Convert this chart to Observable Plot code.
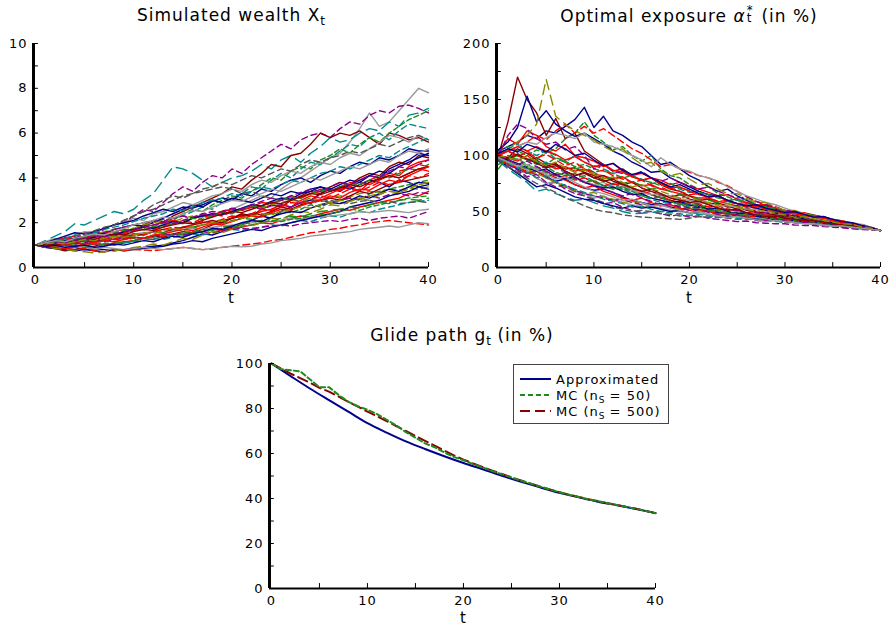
<!DOCTYPE html>
<html>
<head>
<meta charset="utf-8">
<script src="https://cdn.jsdelivr.net/npm/d3@7"></script>
<script src="https://cdn.jsdelivr.net/npm/@observablehq/plot@0.6"></script>
<style>
  body { margin: 0; background: #fff; }
  #root { position: relative; width: 894px; height: 630px; background: #fff; overflow: hidden;
          font-family: "DejaVu Sans", sans-serif; color: #000; }
  .panel { position: absolute; }
  .title { position: absolute; text-align: center; font-size: 17px; letter-spacing: 1px; white-space: nowrap; line-height: 20px; }
  .xlab { position: absolute; text-align: center; font-size: 15px; width: 20px; line-height: 16px; }
  .sub { font-size: 0.7em; vertical-align: -0.35em; letter-spacing: 0; }
  .ss { position: relative; display: inline-block; width: 0.55em; height: 1em; vertical-align: baseline; }
  .ss .up { position: absolute; left: 1px; top: 0.12em; font-size: 0.7em; line-height: 0.75; }
  .ss .dn { position: absolute; left: 1px; top: 0.72em; font-size: 0.7em; line-height: 0.75; }
  .legend { position: absolute; left: 513px; top: 364px; width: 154px; height: 58px; border: 1.5px solid #444; background: #fff; }
</style>
</head>
<body>
<div id="root">
  <div class="title" style="left:131px; width:200px; top:5px;">Simulated wealth X<span class="sub">t</span></div>
  <div class="title" style="left:549px; width:280px; top:5px;">Optimal exposure <i>α</i><span class="ss"><span class="up">*</span><span class="dn">t</span></span> (in %)</div>
  <div class="title" style="left:352px; width:220px; top:325px;">Glide path g<span class="sub">t</span> (in %)</div>
  <div class="xlab" style="left:221px; top:290px;">t</div>
  <div class="xlab" style="left:679px; top:290px;">t</div>
  <div class="xlab" style="left:453px; top:610px;">t</div>
  <div id="p1" class="panel" style="left:0px; top:0px;"></div>
  <div id="p2" class="panel" style="left:447px; top:0px;"></div>
  <div id="p3" class="panel" style="left:220px; top:320px;"></div>
  <div class="legend">
    <svg width="154" height="58" style="position:absolute;left:0;top:0;font-family:'DejaVu Sans',sans-serif;font-size:13px;letter-spacing:1px;">
      <line x1="6" x2="37" y1="14" y2="14" stroke="#00008B" stroke-width="2"/>
      <text x="42" y="19">Approximated</text>
      <line x1="6" x2="37" y1="30" y2="30" stroke="#1E8B1E" stroke-width="2" stroke-dasharray="5,3"/>
      <text x="42" y="35">MC (n<tspan font-size="9" dy="3" letter-spacing="0">S</tspan><tspan dy="-3"> = 50)</tspan></text>
      <line x1="6" x2="37" y1="46" y2="46" stroke="#8B0000" stroke-width="2" stroke-dasharray="10,5"/>
      <text x="42" y="51">MC (n<tspan font-size="9" dy="3" letter-spacing="0">S</tspan><tspan dy="-3"> = 500)</tspan></text>
    </svg>
  </div>
</div>
<script>
// ---------- data ----------
const tValues = d3.range(0, 41);           // time grid t = 0..40
const tTickLabels = [0, 10, 20, 30, 40];
const tMinorTicks = [5, 10, 15, 20, 25, 30, 35, 40];

const wealthTickLabels = [0, 2, 4, 6, 8, 10];
const wealthMinorTicks = [1, 2, 3, 4, 5, 6, 7, 8, 9, 10];
const exposureTickLabels = [0, 50, 100, 150, 200];
const exposureMinorTicks = [25, 50, 75, 100, 125, 150, 175, 200];
const glideTickLabels = [0, 20, 40, 60, 80, 100];
const glideMinorTicks = [10, 20, 30, 40, 50, 60, 70, 80, 90, 100];

// simulated wealth paths X_t (one row per path, t = 0..40)
const wealthPaths = [
  [1,1.05,1.12,1.2,1.15,1.3,1.4,1.35,1.5,1.6, 1.7,1.65,1.8,1.9,2.0,1.95,2.2,2.3,2.25,2.5, 2.6,2.8,3.0,3.2,3.1,3.5,3.8,4.0,4.3,4.6, 4.9,5.1,5.6,6.2,6.9,6.3,6.5,7.0,7.5,8.0, 7.8],
  [1,1.1,1.25,1.2,1.4,1.55,1.5,1.7,1.9,2.0, 2.3,2.6,2.5,2.9,3.3,3.6,3.4,3.8,4.1,4.0, 4.4,4.2,4.6,4.9,5.2,5.5,5.3,5.7,5.9,6.0, 5.8,6.2,6.5,6.4,6.8,7.0,6.9,7.2,7.25,7.1, 6.9],
  [1,1.2,1.4,1.6,1.95,1.9,2.1,2.3,2.5,2.4, 2.6,3.0,3.3,3.9,4.5,4.4,4.2,3.9,3.6,3.8, 4.0,4.1,4.3,4.6,4.4,4.8,5.0,4.7,5.1,5.4, 5.8,5.6,5.7,6.0,6.2,6.1,6.5,6.3,6.8,6.9, 7.1],
  [1,0.95,1.05,1.15,1.1,1.25,1.3,1.45,1.4,1.55, 1.7,1.9,2.1,2.0,2.3,2.5,2.7,2.9,3.1,3.3, 3.6,3.5,3.9,4.2,4.6,4.5,5.0,5.1,5.5,6.0, 5.8,6.0,5.9,6.1,5.8,5.5,6.0,5.9,5.7,5.8, 5.6],
  [1,1.05,0.98,1.1,1.2,1.15,1.3,1.4,1.55,1.5, 1.7,1.85,1.8,2.0,2.2,2.3,2.5,2.7,2.6,2.9, 3.1,3.3,3.6,3.5,3.9,4.2,4.0,4.4,4.7,4.6, 4.9,5.2,5.5,5.4,5.8,6.0,5.7,6.1,6.4,6.3, 6.2],
  [1,1.1,1.05,1.2,1.3,1.25,1.4,1.5,1.45,1.6, 1.75,1.9,2.0,2.15,2.1,2.4,2.6,2.5,2.8,3.0, 3.2,3.1,3.4,3.7,4.0,3.9,4.3,4.5,4.4,4.8, 5.0,5.3,5.1,5.5,5.8,5.6,6.0,6.3,6.6,6.8, 7.0],
  [1,1.1,1.2,1.3,1.25,1.4,1.55,1.5,1.7,1.8, 1.9,1.85,2.0,2.2,2.4,2.6,2.8,2.7,2.95,3.1, 3.0,3.3,3.2,3.5,3.4,3.7,3.9,4.0,3.8,4.1, 4.3,4.2,4.5,4.7,4.6,4.9,4.8,5.0,5.3,5.2, 5.2],
  [1,0.95,0.9,0.85,0.9,0.8,0.85,0.8,0.75,0.8, 0.85,0.9,0.95,1.0,1.1,1.2,1.35,1.5,1.45,1.6, 1.8,1.9,2.1,2.3,2.2,2.5,2.7,2.9,3.0,3.3, 3.5,3.4,3.7,3.9,4.1,4.0,4.4,4.6,4.8,5.1, 5.0],
  [1,1.05,1.1,1.0,1.15,1.2,1.3,1.25,1.35,1.3, 1.45,1.5,1.6,1.55,1.7,1.8,1.75,1.9,2.0,2.1, 2.2,2.35,2.3,2.5,2.6,2.8,2.7,3.0,3.2,3.1, 3.3,3.5,3.6,3.4,3.8,4.0,4.2,4.1,4.5,4.7, 4.8],
  [1,0.9,0.85,0.75,0.8,0.9,0.95,1.05,1.0,1.1, 1.2,1.3,1.4,1.35,1.5,1.6,1.55,1.7,1.9,2.0, 2.2,2.4,2.3,2.6,2.8,2.7,3.0,3.2,3.4,3.3, 3.6,3.8,3.7,4.0,4.2,4.1,4.5,4.7,4.6,5.0, 4.9],
  [1,1.15,1.3,1.25,1.45,1.6,1.55,1.75,1.9,2.0, 2.2,2.1,2.4,2.5,2.7,2.9,2.8,3.0,3.2,3.3, 3.5,3.4,3.7,3.9,3.8,4.1,4.3,4.2,4.5,4.7, 4.6,4.9,5.1,5.0,5.3,5.6,5.9,5.8,5.6,5.9, 5.7],
  [1,1.1,1.2,1.35,1.3,1.5,1.6,1.75,1.9,2.1, 2.3,2.5,2.8,3.0,3.2,3.1,3.3,3.5,3.6,3.8, 3.7,3.9,4.1,4.0,4.2,4.4,4.3,4.6,4.8,4.7, 4.9,5.0,5.2,5.1,5.3,5.5,5.4,5.6,5.8,5.9, 5.7],
  [1,1.1,1.2,1.3,1.4,1.35,1.5,1.45,1.6,1.55, 1.65,1.8,1.7,1.85,1.95,2.1,2.0,2.2,2.4,2.3, 2.5,2.6,2.8,2.7,2.9,3.0,3.2,3.1,3.3,3.5, 3.4,3.6,3.8,3.7,3.9,4.1,4.0,4.3,4.4,4.6, 4.5],
  [1,1.1,1.25,1.4,1.55,1.5,1.6,1.75,1.9,2.0, 2.1,2.3,2.45,2.6,2.5,2.7,2.65,2.8,3.0,2.9, 3.1,3.0,2.9,3.1,3.3,3.2,3.4,3.3,3.5,3.6, 3.4,3.6,3.5,3.7,3.9,3.8,3.6,3.9,3.8,3.6, 3.7],
  [1,0.95,1.0,1.1,1.05,1.15,1.25,1.2,1.3,1.4, 1.35,1.5,1.6,1.55,1.7,1.65,1.8,1.9,2.0,1.95, 2.1,2.2,2.15,2.3,2.4,2.5,2.45,2.6,2.8,2.7, 2.9,3.0,3.1,3.0,3.3,3.4,3.5,3.6,3.7,3.8, 3.9],
  [1,1.05,1.15,1.2,1.3,1.4,1.5,1.6,1.7,1.8, 1.75,1.9,2.0,2.1,2.05,2.2,2.3,2.25,2.4,2.5, 2.45,2.6,2.7,2.65,2.8,2.9,3.0,2.95,3.1,3.0, 3.1,3.2,3.15,3.3,3.4,3.35,3.5,3.45,3.55,3.5, 3.6],
  [1,0.9,0.95,0.85,0.9,1.0,1.05,1.0,1.1,1.15, 1.2,1.3,1.25,1.4,1.5,1.45,1.55,1.6,1.7,1.65, 1.75,1.8,1.9,2.0,1.95,2.1,2.2,2.3,2.25,2.4, 2.5,2.6,2.55,2.7,2.8,2.9,3.0,3.1,3.3,3.2, 3.4],
  [1,1.05,0.95,1.0,1.1,1.2,1.15,1.3,1.4,1.35, 1.5,1.45,1.6,1.7,1.65,1.8,1.9,2.0,2.1,2.0, 2.2,2.3,2.4,2.35,2.5,2.7,2.6,2.8,2.9,3.0, 3.1,3.0,3.2,3.4,3.3,3.5,3.7,3.8,3.9,4.0, 4.1],
  [1,1.1,1.2,1.35,1.3,1.5,1.6,1.55,1.7,1.8, 1.9,2.0,2.1,2.05,2.2,2.3,2.2,2.4,2.5,2.45, 2.6,2.55,2.7,2.6,2.75,2.8,2.7,2.9,2.85,3.0, 2.9,3.0,3.1,3.05,3.2,3.1,3.25,3.3,3.2,3.35, 3.3],
  [1,0.95,0.9,0.95,1.0,0.95,1.05,1.1,1.0,1.1, 1.15,1.2,1.3,1.25,1.35,1.4,1.5,1.45,1.55,1.6, 1.7,1.65,1.75,1.8,1.9,1.85,2.0,2.1,2.05,2.2, 2.3,2.25,2.4,2.5,2.45,2.6,2.7,2.8,2.9,2.95, 3.0],
  [1,1.05,1.1,1.2,1.15,1.25,1.3,1.4,1.35,1.45, 1.5,1.55,1.6,1.5,1.65,1.7,1.75,1.7,1.8,1.85, 1.9,1.95,2.0,2.1,2.05,2.1,2.2,2.15,2.3,2.25, 2.3,2.35,2.4,2.5,2.45,2.5,2.55,2.5,2.45,2.55, 2.6],
  [1,0.9,0.85,0.8,0.75,0.8,0.75,0.7,0.8,0.75, 0.8,0.85,0.9,0.95,1.05,1.1,1.2,1.15,1.3,1.4, 1.5,1.6,1.7,1.65,1.8,1.9,2.0,2.1,2.2,2.3, 2.4,2.5,2.7,2.8,2.9,3.0,3.2,3.3,3.4,3.6, 3.5],
  [1,1.05,1.0,1.1,1.15,1.2,1.1,1.2,1.3,1.25, 1.3,1.35,1.4,1.5,1.45,1.55,1.6,1.7,1.65,1.75, 1.8,1.85,1.9,2.0,2.1,2.05,2.15,2.2,2.3,2.35, 2.4,2.5,2.6,2.55,2.7,2.8,2.9,3.0,3.1,3.15, 3.2],
  [1,0.95,0.9,0.85,0.8,0.85,0.75,0.7,0.8,0.75, 0.8,0.78,0.75,0.8,0.85,0.9,0.85,0.8,0.82,0.9, 0.95,1.0,1.05,1.1,1.2,1.25,1.35,1.45,1.55,1.6, 1.7,1.75,1.85,1.9,2.0,2.05,2.1,2.05,2.0,1.95, 1.9],
  [1,1.0,0.95,0.9,0.95,0.9,0.85,0.9,0.85,0.8, 0.85,0.9,0.85,0.8,0.85,0.9,0.85,0.8,0.85,0.9, 0.95,0.92,0.95,1.05,1.1,1.2,1.25,1.3,1.4,1.45, 1.5,1.55,1.6,1.7,1.75,1.8,1.85,1.8,1.9,2.0, 1.95],
  [1,1.05,1.1,1.0,1.05,1.1,1.2,1.15,1.25,1.3, 1.35,1.3,1.4,1.45,1.5,1.45,1.55,1.6,1.55,1.65, 1.7,1.75,1.7,1.8,1.85,1.9,1.85,1.95,2.0,2.05, 2.1,2.05,2.15,2.2,2.1,2.2,2.25,2.3,2.2,2.35, 2.5],
  [1,1.1,1.2,1.3,1.4,1.5,1.65,1.8,1.9,2.1, 2.3,2.5,2.6,2.8,3.0,3.2,3.3,3.4,3.5,3.6, 3.5,3.3,3.4,3.2,3.1,3.0,3.1,2.9,3.0,2.95, 3.0,2.9,2.85,2.95,3.0,2.9,2.95,2.85,2.9,2.95, 2.9],
  [1,0.95,0.85,0.8,0.75,0.7,0.65,0.7,0.75,0.8, 0.9,0.95,1.05,1.0,1.15,1.3,1.25,1.45,1.6,1.55, 1.7,1.9,1.85,2.0,2.2,2.15,2.35,2.5,2.45,2.6, 2.8,2.75,2.95,3.1,3.0,3.25,3.4,3.35,3.6,3.7, 3.8],
  [1,1.1,1.15,1.3,1.25,1.4,1.35,1.5,1.6,1.7, 1.65,1.8,1.9,2.0,2.1,2.0,2.2,2.35,2.3,2.5, 2.6,2.55,2.7,2.9,2.85,3.0,3.2,3.1,3.3,3.4, 3.5,3.45,3.6,3.8,3.7,3.9,4.1,4.0,4.2,4.4, 4.3],
  [1,0.9,0.95,1.05,1.0,0.9,0.95,1.05,1.15,1.1, 1.2,1.3,1.35,1.45,1.4,1.5,1.6,1.55,1.7,1.8, 1.85,1.95,2.0,2.1,2.05,2.2,2.3,2.25,2.4,2.5, 2.55,2.6,2.7,2.65,2.8,2.9,2.85,3.0,3.05,3.0, 3.1],
  [1,1.05,1.1,1.2,1.3,1.25,1.35,1.5,1.45,1.6, 1.7,1.8,1.75,1.9,2.05,2.0,2.2,2.3,2.4,2.35, 2.5,2.65,2.8,2.75,2.95,3.1,3.05,3.3,3.4,3.6, 3.5,3.7,3.9,3.8,4.1,4.3,4.2,4.5,4.7,4.9, 5.1],
  [1,0.95,1.05,1.0,1.1,1.05,1.15,1.3,1.25,1.4, 1.5,1.45,1.6,1.7,1.8,1.75,1.9,2.05,2.0,2.15, 2.3,2.25,2.4,2.6,2.55,2.7,2.9,2.85,3.0,3.2, 3.1,3.3,3.5,3.4,3.6,3.8,3.7,3.9,4.1,4.0, 4.2],
  [1,1.1,1.15,1.25,1.2,1.35,1.45,1.4,1.55,1.65, 1.6,1.75,1.85,1.8,1.95,2.1,2.2,2.15,2.3,2.45, 2.4,2.6,2.75,2.7,2.9,3.0,3.15,3.1,3.3,3.45, 3.4,3.6,3.75,3.7,3.9,4.1,4.0,4.2,4.4,4.35, 4.6],
  [1,1.05,1.0,1.1,1.2,1.3,1.25,1.4,1.5,1.45, 1.6,1.7,1.65,1.8,1.9,2.0,1.95,2.1,2.25,2.4, 2.5,2.45,2.6,2.75,2.9,2.85,3.0,3.15,3.3,3.25, 3.4,3.55,3.7,3.6,3.8,3.95,4.1,4.0,4.2,4.4, 4.5],
  [1,1.1,1.2,1.3,1.45,1.4,1.55,1.7,1.8,1.9, 2.05,2.2,2.3,2.4,2.6,2.55,2.7,2.9,3.0,3.1, 3.3,3.2,3.4,3.6,3.5,3.7,3.9,3.8,4.0,4.2, 4.3,4.5,4.4,4.6,4.8,5.0,4.9,5.2,5.4,5.6, 5.8],
  [1,0.95,0.9,1.0,0.95,1.05,1.1,1.2,1.15,1.25, 1.35,1.3,1.45,1.5,1.6,1.7,1.65,1.8,1.95,1.9, 2.05,2.2,2.3,2.25,2.45,2.6,2.55,2.75,2.9,3.0, 3.2,3.1,3.35,3.5,3.45,3.7,3.9,3.8,4.1,4.3, 4.5],
  [1,1.05,1.15,1.1,1.2,1.3,1.4,1.35,1.5,1.6, 1.7,1.8,1.9,2.0,1.95,2.1,2.25,2.4,2.35,2.5, 2.65,2.6,2.8,2.95,3.1,3.0,3.2,3.35,3.5,3.4, 3.6,3.8,3.7,3.9,4.1,4.0,4.3,4.5,4.4,4.6, 4.8],
  [1,0.95,1.0,0.9,0.95,1.0,0.9,0.95,1.05,1.0, 1.1,1.2,1.15,1.3,1.4,1.35,1.5,1.6,1.75,1.7, 1.85,2.0,2.1,2.05,2.25,2.4,2.5,2.45,2.65,2.8, 2.9,2.85,3.0,3.2,3.1,3.3,3.5,3.4,3.6,3.8, 3.75],
  [1,1.05,1.1,1.05,1.15,1.25,1.2,1.3,1.4,1.35, 1.45,1.55,1.5,1.65,1.75,1.7,1.85,1.9,2.0,2.1, 2.05,2.2,2.3,2.4,2.35,2.5,2.6,2.7,2.65,2.8, 2.9,3.0,2.95,3.1,3.2,3.3,3.4,3.35,3.5,3.7, 3.8],
  [1,1.1,1.2,1.15,1.3,1.4,1.5,1.45,1.6,1.75, 1.9,2.0,2.1,2.25,2.2,2.4,2.55,2.5,2.7,2.85, 3.0,2.95,3.15,3.3,3.5,3.4,3.6,3.8,4.0,3.9, 4.1,4.3,4.5,4.4,4.6,4.8,4.7,5.0,5.2,5.1, 5.3]
];

// optimal exposure paths alpha*_t in % (one row per path, t = 0..40)
const exposurePaths = [
  [98,96,92,88,90,85,82,84,80,77, 74,76,72,70,68,69,65,63,64,60, 58,56,54,52,53,50,48,46,45,43, 42,43,41,40,38,39,37,36,35,34, 33],
  [96,90,85,86,80,75,76,70,66,64, 60,57,58,54,51,49,50,48,46,47, 45,46,44,43,42,41,41.5,40,39.5,39, 39,38,37.5,37.5,36.5,36,35.5,34.5,34,33.5, 33],
  [95,88,82,76,68,70,66,63,60,61, 58,55,53,50,48,48.5,49,50,51,50, 49,48,47,46,46.5,45,44,44.5,43,42, 40,40.5,40,39,38,37.5,36.5,36,34.5,34, 33],
  [102,104,100,96,98,93,92,88,89,85, 82,78,74,75,71,68,65,62,60,58, 55,56,52,50,48,48.5,46,45.5,44,42, 42,41,41,40,40,39.5,37.5,37,36,35, 33],
  [100,98,102,96,92,94,89,85,80,82, 77,73,74,70,66,64,61,58,59,56, 54,52,50,50.5,48,46,47,45,43.5,43.5, 42,41,40,40,38.5,38,38,36.5,35.5,34.5, 33],
  [99,95,97,92,88,90,85,82,84,80, 76,73,71,69,70,65,62,63,59,57, 55,56,53,51,49,49.5,47,46,46,44, 43,42,42,40.5,39.5,39.5,38,37,35.5,34.5, 33],
  [97,92,88,84,86,81,77,79,74,71, 69,70,67,63,60,58,56,57,54,52, 53,50,51,48,49,46,45,44,45,43, 42,42,41,40,40,38.5,38,37,35.5,34.5, 33],
  [104,108,112,118,115,122,120,126,132,143, 125,135,122,118,112,108,100,92,94,88, 82,78,72,68,70,64,60,56,55,52, 50,50,47,45,43,43,40,38.5,37,35, 33],
  [100,98,95,100,94,92,88,90,86,88, 83,82,79,81,76,73,74,70,68,66, 64,62,62,59,57,55,56,52,50,50, 48,46,45,46,43,41,40,39.5,37,35.5, 33],
  [100,130,170,150,138,118,133,115,120,104, 98,92,86,88,82,78,80,74,70,68, 64,60,61,57,54,55,51,49,47,47, 45,43,43,41,39.5,39.5,37.5,36,35.5,34, 33],
  [96,90,84,86,80,75,77,72,68,66, 62,64,60,58,56,54,55,53,51,50, 48.5,49,47,46,46.5,45,44,44.5,43,42, 42,41,40,40,38.5,37.5,36.5,36,35,34, 33],
  [97,93,89,84,86,80,76,72,68,64, 61,58,54,52,50,51,50,48,47.5,46, 46.5,45.5,44.5,45,44,43,43.5,42,41,41.5, 40.5,40,39,39,38,37,37,36,35,34, 33],
  [95,92,89,86,83,85,80,82,78,80, 77,73,75,72,70,66,68,64,60,62, 58,57,54,55,52,51,49,50,47,45, 45,44,42,42,40.5,39,39,37,36,34.5, 33],
  [96,90,84,78,72,74,71,67,63,61, 60,57,55,53,55,53,54,52,50,51, 49,50,51,49,48,48.5,47,47.5,46,45, 46,44,44,42.5,41,40.5,40.5,38.5,37,35.5, 33],
  [104,108,104,100,105,102,106,115,120,130, 118,112,105,108,100,95,100,88,82,80, 74,70,72,66,63,60,61,56,53,53, 50,48,47,46,43,41.5,40,38.5,36.5,35, 33],
  [98,95,90,88,84,80,76,72,69,66, 67,63,61,58,59,57,55,56,54,52, 53,51,50,50.5,49,48,47,47.5,46,46.5, 45,44,44,42.5,41,41,39.5,39,37,35.5, 33],
  [102,115,110,122,118,108,104,110,100,98, 95,90,93,86,82,84,80,78,74,76, 72,70,67,64,65,61,58,56,56,53, 51,49,49,47,45,43,41.5,39.5,37,36, 33],
  [100,98,106,102,96,90,93,86,82,85, 80,82,77,74,76,71,68,65,63,65, 61,59,57,57.5,55,52,53,50,48.5,47, 45.5,46,44,42,42,40.5,38.5,37.5,36,34.5, 33],
  [97,92,87,81,83,76,72,74,69,66, 64,62,60,61,58,56,58,55,54,55, 53,54,52,53,51.5,51,52,49.5,49.5,48, 48,47,45.5,45,43.5,43,41,39.5,38.5,36, 33],
  [102,106,110,104,100,104,97,94,100,94, 91,88,84,86,81,79,75,76,72,70, 67,68,65,63,60,60,57,54,54,51, 49,49,47,45,44,42,40.5,38.5,36.5,35, 33],
  [98,95,92,87,89,84,82,78,80,76, 74,72,70,73,69,67,65,66,63,61, 60,58,57,55,55,54,52,52,50,50, 49,48,46.5,45,44,43,41.5,40,38.5,36, 33],
  [105,112,125,153,130,140,128,122,117,120, 115,110,104,100,94,90,85,86,80,76, 72,68,65,64,60,57,55,53,51,49, 47,45.5,43.5,42,41,39.5,38,37,35.5,34.5, 33],
  [92,96,100,97,94,92,98,95,90,92, 88,86,84,80,82,78,76,73,75,71, 69,67,65,62,60,61,58,56,54,53, 51,49,47,47,45,43,41,39.5,37.5,35.5, 33],
  [100,104,108,112,118,114,122,128,120,126, 120,124,118,112,106,102,96,90,92,88, 85,82,80,76,73,68,63,59,56,54, 51,49,47,45,43,41,39.5,38,36,34.5, 33],
  [100,104,108,112,110,116,120,118,115,120, 112,110,108,104,100,96,90,98,92,88, 86,82,80,77,72,68,64,61,58,56, 53,50,48,45.5,43.5,41.5,40,38,36,34.5, 33],
  [100,118,128,124,115,110,112,105,108,100, 88,92,86,84,82,86,80,77,80,76, 73,70,72,68,65,62,63,59,56,54, 51,50,47.5,45.5,45.5,43,41,39,37,35, 33],
  [96,90,85,80,75,71,67,62,59,55, 52,50,49,47,46,45,44.5,44,43.5,43, 44,45.5,45,46.5,47,47.5,46.5,47.5,46.5,46, 45,44.5,44,42.5,41.5,41,39.5,38.5,36.5,35, 33],
  [100,106,112,118,128,168,135,128,122,118, 114,108,104,106,98,92,94,86,82,84, 79,74,75,70,66,66,62,58,58,54, 51,51,48,46,45,42.5,40.5,39.5,37,35, 33],
  [97,92,90,84,87,81,84,78,74,71, 73,68,65,62,60,62,58,55,56,53, 51,52,50,48,48.5,47,45.5,46,44.5,43.5, 42.5,42.5,41.5,40,40,38.5,37,37,35.5,34, 33],
  [88,100,96,90,96,104,100,94,88,90, 85,80,79,75,77,73,70,72,68,65, 64,61,60,58,59,56,54,55,52,50, 49,48.5,46.5,46.5,44.5,43,41.5,39.5,37.5,35.5, 33],
  [99,96,93,89,86,88,83,79,81,76, 73,71,72,68,65,66,62,60,58,59, 56,54,52,53,50,48,49,46,45,43, 44,42,40.5,41,39,38,38,36.5,35.5,34.5, 33],
  [101,104,99,103,98,101,96,91,94,88, 85,87,82,79,76,78,73,70,71,68, 65,66,62,59,60,57,54,55,52,50, 50,48,46,46,44,42,41.5,39.5,37.5,35.5, 33],
  [98,94,92,88,90,85,82,84,79,76, 78,73,70,72,68,64,62,63,59,56, 57,54,51,52,49,48,46,47,45,43, 44,42,40.5,41,39,37.5,38,36.5,35,34.5, 33],
  [100,97,101,97,93,89,91,86,82,84, 80,77,79,74,71,68,70,66,62,60, 58,59,56,53,51,52,49,47,45.5,46, 44,43,41.5,42,40.5,39,38,37.5,36,34.5, 33],
  [97,93,89,85,80,82,77,73,70,67, 64,61,59,57,54,55,52,50,49,48, 46.5,47.5,46,44.5,45.5,44,43,43.5,42,41, 41,40,40,39,38,37,37,35.5,34.5,34, 33],
  [100,104,108,104,108,104,101,96,99,94, 90,92,87,85,81,78,80,75,71,72, 68,65,63,64,60,57,58,55,52,51, 48,49,46,45,44.5,42,40,39.5,37,35.5, 33],
  [99,96,92,95,90,86,82,85,80,76, 73,70,67,64,66,62,59,56,57,54, 51,52,49,47,46,47,44.5,43,42,43, 41.5,40,40.5,39,38,38,36,35.5,35,34, 33],
  [102,106,103,110,107,103,110,106,100,102, 96,91,93,87,83,85,80,76,72,74, 70,66,63,64,60,57,55,56,53,51, 49,50,47.5,45,45.5,43,41,40,37.5,35.5, 33],
  [100,98,96,99,95,91,94,89,85,87, 83,79,81,76,72,74,70,68,65,62, 63,60,58,56,57,54,52,50,51,48.5, 47,45,45.5,43.5,42,40.5,39,38.5,36.5,35, 33],
  [98,94,90,92,87,83,79,81,76,72, 68,66,63,60,61,58,55,56,53,51, 49,50,48,46,44.5,45.5,44,42.5,41,42, 41,40,39,39,38,37,37,36,35,34, 33]
];

// glide path g_t in %
const approxT = [0,2,4,6,8,10,12,14,16,18,20,22,24,26,28,30,32,34,36,38,40];
const approxG = [100,94.4,88.9,83.7,78.6,73.5,69.3,65.4,62.0,58.8,55.8,53.0,50.1,47.4,44.9,42.5,40.5,38.6,37.0,35.3,33.5];
const mc50G = [100,97.5,97,96.5,93,89.5,89.5,86,83,81, 79.5,77.5,75,72.5,69.5,67,64.5,62.8,60.5,58.5, 57,55.3,53.8,52.2,50.8,49.3,47.9,46.6,45.3,44.0, 42.8,41.7,40.7,39.7,38.8,37.9,37.1,36.2,35.4,34.5, 33.5];
const mc500G = [100,97.8,95.5,93.5,91.5,89.2,87.5,85.3,83,80.8, 78.6,76.6,74.4,72.2,70,67.8,65.6,63.5,61.3,59.2, 57.3,55.6,54.0,52.4,50.9,49.4,48.0,46.6,45.3,44.0, 42.8,41.7,40.7,39.7,38.8,37.9,37.1,36.2,35.4,34.5, 33.5];

// ---------- styles ----------
const C = {navy:"#00008B", red:"#FF0000", dred:"#8B0000", green:"#1E8B1E", teal:"#008B8B",
           purple:"#8B008B", olive:"#8B8B00", gray:"#999999", dgray:"#555555"};
const pathStyles = [
  {c:C.gray, d:null}, {c:C.purple, d:"6,4"}, {c:C.teal, d:"11,6"}, {c:C.dred, d:null},
  {c:C.teal, d:"6,4"}, {c:C.green, d:"5,3"}, {c:C.navy, d:null}, {c:C.navy, d:null},
  {c:C.red, d:null}, {c:C.dred, d:null}, {c:C.gray, d:null}, {c:C.dgray, d:"6,4"},
  {c:C.red, d:"7,4"}, {c:C.navy, d:null}, {c:C.green, d:"5,3"}, {c:C.olive, d:"7,4"},
  {c:C.red, d:null}, {c:C.dred, d:null}, {c:C.purple, d:"6,4"}, {c:C.teal, d:"6,4"},
  {c:C.gray, d:null}, {c:C.navy, d:null}, {c:C.green, d:"5,3"}, {c:C.red, d:"7,4"},
  {c:C.gray, d:null}, {c:C.purple, d:"6,4"}, {c:C.dgray, d:"6,4"}, {c:C.olive, d:"10,6"},
  {c:C.red, d:null}, {c:C.green, d:"10,6"},
  {c:C.navy, d:null}, {c:C.red, d:"7,4"}, {c:C.green, d:"5,3"}, {c:C.dred, d:null},
  {c:C.teal, d:"6,4"}, {c:C.red, d:null}, {c:C.purple, d:"6,4"}, {c:C.navy, d:null},
  {c:C.olive, d:"7,4"}, {c:C.gray, d:null}
];

const FONT = "'DejaVu Sans', sans-serif";
const X0 = -0.2;

function frameMarks(yMax, yLabels, yMinor) {
  return [
    Plot.ruleY(yMinor, {y: d => d, x1: X0, x2: X0 + 0.5, stroke: "#000", strokeWidth: 1}),
    Plot.ruleX(tMinorTicks, {x: d => d, y1: 0, y2: yMax * 0.022, stroke: "#000", strokeWidth: 1}),
    Plot.ruleY([0], {x1: X0, x2: 40, stroke: "#000", strokeWidth: 2}),
    Plot.ruleX([X0], {y1: 0, y2: yMax, stroke: "#000", strokeWidth: 3}),
    Plot.axisY({ticks: yLabels, tickSize: 0, tickPadding: 6, label: null, fontSize: 13}),
    Plot.axisX({ticks: tTickLabels, tickSize: 0, tickPadding: 7, label: null, fontSize: 13})
  ];
}

function pathMarks(paths) {
  return paths.map((p, i) => {
    const s = pathStyles[i % pathStyles.length];
    return Plot.line(p, {x: (d, j) => tValues[j], y: d => d, stroke: s.c, strokeWidth: 1.4,
                          strokeDasharray: s.d || undefined});
  });
}

const baseStyle = {fontFamily: FONT, fontSize: "13px", letterSpacing: "1px", color: "#000", background: "transparent", overflow: "visible"};

const p1 = Plot.plot({
  width: 447, height: 310, marginLeft: 33, marginRight: 19, marginTop: 43, marginBottom: 43,
  x: {domain: [X0, 40]}, y: {domain: [0, 10]}, style: baseStyle,
  marks: [...pathMarks(wealthPaths), ...frameMarks(10, wealthTickLabels, wealthMinorTicks)]
});
document.getElementById("p1").appendChild(p1);

const p2 = Plot.plot({
  width: 447, height: 310, marginLeft: 49, marginRight: 14, marginTop: 43, marginBottom: 43,
  x: {domain: [X0, 40]}, y: {domain: [0, 200]}, style: baseStyle,
  marks: [...pathMarks(exposurePaths), ...frameMarks(200, exposureTickLabels, exposureMinorTicks)]
});
document.getElementById("p2").appendChild(p2);

const p3 = Plot.plot({
  width: 460, height: 310, marginLeft: 49, marginRight: 25, marginTop: 43, marginBottom: 42,
  x: {domain: [X0, 40]}, y: {domain: [0, 100]}, style: baseStyle,
  marks: [
    Plot.line(approxG, {x: (d, i) => approxT[i], y: d => d, stroke: C.navy, strokeWidth: 2, curve: "monotone-x"}),
    Plot.line(mc500G, {x: (d, i) => tValues[i], y: d => d, stroke: C.dred, strokeWidth: 2, strokeDasharray: "10,5"}),
    Plot.line(mc50G, {x: (d, i) => tValues[i], y: d => d, stroke: C.green, strokeWidth: 2, strokeDasharray: "5,3"}),
    ...frameMarks(100, glideTickLabels, glideMinorTicks)
  ]
});
document.getElementById("p3").appendChild(p3);
</script>
</body>
</html>
